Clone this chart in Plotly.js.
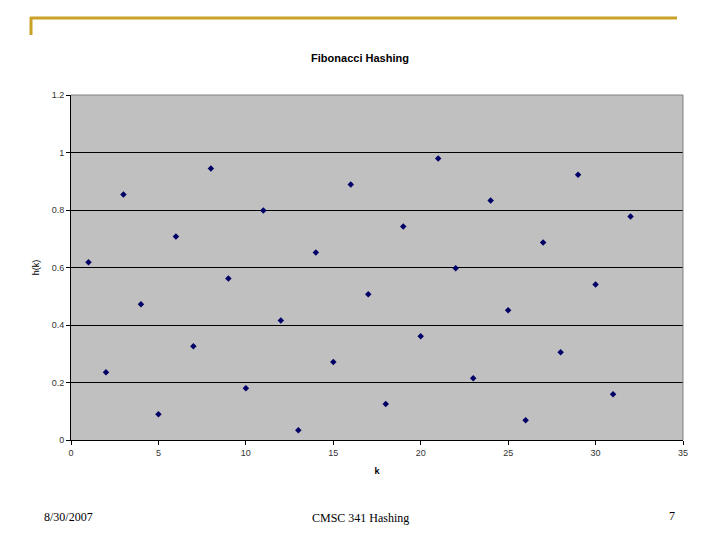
<!DOCTYPE html>
<html><head><meta charset="utf-8">
<script src="https://cdn.plot.ly/plotly-3.0.1.min.js"></script>
<style>html,body{margin:0;padding:0;background:#fff;}#chart{width:720px;height:540px;}</style>
</head><body><div id="chart"></div>
<script>
const kValues = [1,2,3,4,5,6,7,8,9,10,11,12,13,14,15,16,17,18,19,20,21,22,23,24,25,26,27,28,29,30,31,32];
const hValues = [0.618,0.236,0.854,0.472,0.090,0.708,0.326,0.944,0.562,0.180,0.798,0.416,0.034,0.652,0.271,0.889,0.507,0.125,0.743,0.361,0.979,0.597,0.215,0.833,0.451,0.069,0.687,0.305,0.923,0.541,0.159,0.777];
const chartTitle = "Fibonacci Hashing";
const footerDate = "8/30/2007";
const footerCenter = "CMSC 341 Hashing";
const footerPage = "7";

const data = [{
  x: kValues, y: hValues, type: 'scatter', mode: 'markers',
  marker: {symbol: 'diamond', size: 5, color: '#000066'},
  hoverinfo: 'skip'
}];
const layout = {
  width: 720, height: 540,
  margin: {l: 71, r: 37, t: 95, b: 100},
  paper_bgcolor: '#ffffff', plot_bgcolor: '#c0c0c0',
  showlegend: false,
  title: {text: '<b>' + chartTitle + '</b>', x: 0.5, xanchor: 'center', y: 1 - 58/540, yanchor: 'middle',
          font: {family: 'Liberation Sans, Arial', size: 11, color: '#000'}},
  xaxis: {range: [0, 35], tick0: 0, dtick: 5, showgrid: false, zeroline: false,
          showline: true, linecolor: '#000', linewidth: 1, mirror: false,
          ticks: 'outside', ticklen: 4, tickcolor: '#000',
          tickfont: {family: 'Liberation Sans, Arial', size: 9, color: '#333'},
          title: {text: '<b>k</b>', standoff: 10, font: {family: 'Liberation Sans, Arial', size: 9, color: '#000'}}},
  yaxis: {range: [0, 1.2], tick0: 0, dtick: 0.2, showgrid: true, gridcolor: '#000', gridwidth: 1,
          zeroline: false, showline: true, linecolor: '#000', linewidth: 1,
          ticks: 'outside', ticklen: 4, tickcolor: '#000',
          tickfont: {family: 'Liberation Sans, Arial', size: 9, color: '#333'},
          title: {text: 'h(k)', standoff: 10, font: {family: 'Liberation Sans, Arial', size: 9, color: '#000'}}},
  shapes: [
    {type: 'line', xref: 'paper', yref: 'paper', x0: 1, x1: 1, y0: 0, y1: 1, line: {color: '#808080', width: 1}},
    {type: 'line', xref: 'paper', yref: 'paper', x0: 0, x1: 1, y0: 1, y1: 1, line: {color: '#808080', width: 1}},
    {type: 'line', xref: 'paper', yref: 'paper', x0: (30-71)/612, x1: (677-71)/612, y0: (540-100-18)/345, y1: (540-100-18)/345, line: {color: '#C9A227', width: 3}},
    {type: 'line', xref: 'paper', yref: 'paper', x0: (31-71)/612, x1: (31-71)/612, y0: (540-100-17)/345, y1: (540-100-35)/345, line: {color: '#C9A227', width: 3}}
  ],
  annotations: [
    {text: footerDate, xref: 'paper', yref: 'paper', x: (42-71)/612, y: (540-100-517)/345, xanchor: 'left', yanchor: 'middle', showarrow: false,
     font: {family: 'Liberation Serif, Times New Roman', size: 12, color: '#000'}},
    {text: footerCenter, xref: 'paper', yref: 'paper', x: (360-71)/612, y: (540-100-518)/345, xanchor: 'center', yanchor: 'middle', showarrow: false,
     font: {family: 'Liberation Serif, Times New Roman', size: 12, color: '#000'}},
    {text: footerPage, xref: 'paper', yref: 'paper', x: (677-71)/612, y: (540-100-516)/345, xanchor: 'right', yanchor: 'middle', showarrow: false,
     font: {family: 'Liberation Serif, Times New Roman', size: 12, color: '#000'}}
  ]
};
Plotly.newPlot('chart', data, layout, {displayModeBar: false, staticPlot: true});
</script></body></html>
